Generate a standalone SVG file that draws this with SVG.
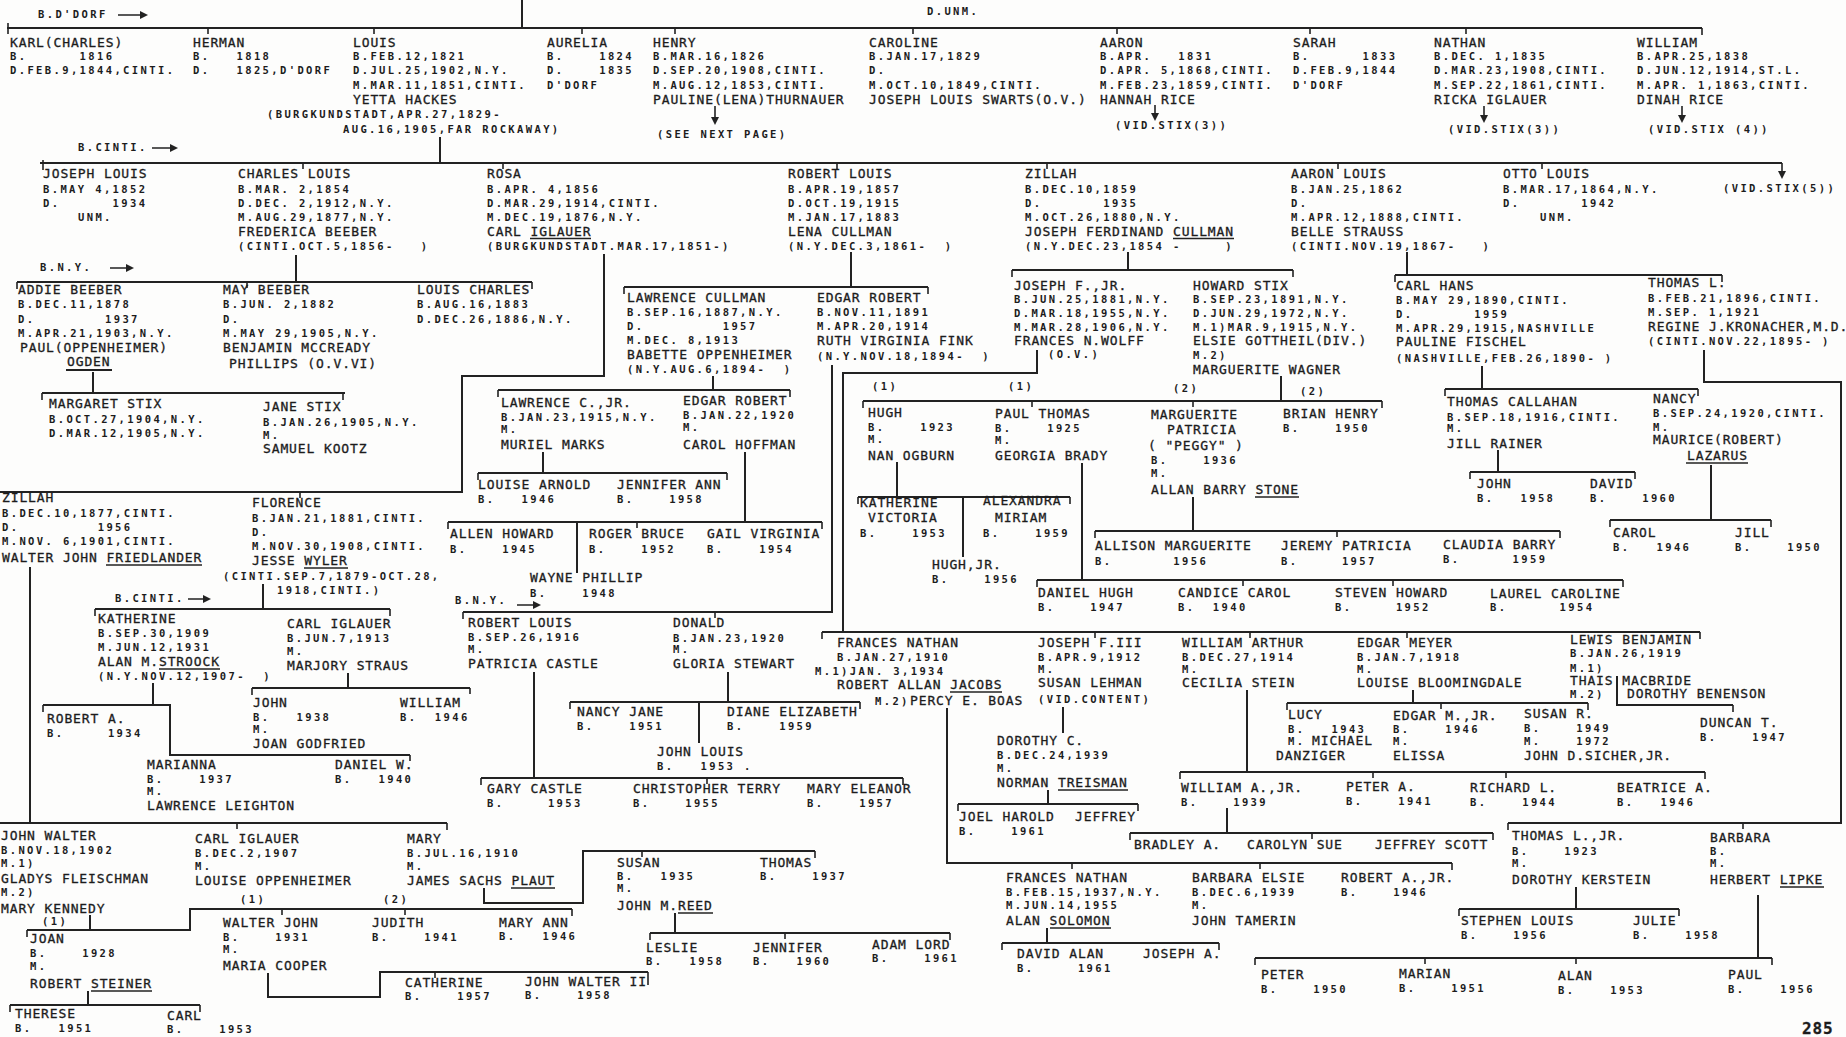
<svg xmlns="http://www.w3.org/2000/svg" width="1846" height="1037" viewBox="0 0 1846 1037" xml:space="preserve">
<defs>
<style>
text{font-family:"DejaVu Sans Mono","Liberation Mono",monospace;fill:#1c1c1c;white-space:pre}
.n{font-size:13px;letter-spacing:0.88px;stroke:#1c1c1c;stroke-width:0.3}
.d{font-size:10.5px;font-weight:bold;letter-spacing:2.38px}
.c{fill:none;stroke:#222;stroke-width:2}
.t{fill:none;stroke:#222;stroke-width:1.6}
.u{stroke:#222;stroke-width:1.3}
.ah{fill:#222}
</style>
</defs>
<rect width="1846" height="1037" fill="#fdfdfc"/>
<g id="connectors">
<path class="c" d="M522 0V28M7 28H1702M440 137V163M40 163H1782M296 255V282M17 282H532M93 372V393M42 393H345M604 254V376H462V492H0M263 584V609M95 609H390M153 683V705M43 705H170V755H410M348 673V688M252 688H470M30 567V823M0 823H447M90 915V930M27 930H190V909H572M88 991V1005M10 1005H200M484 888V903H583V851H815M268 973V997H380V972H648M675 913V933M650 933H950M851 252V287M624 287H928M713 376V390M498 390H790M543 452V473M478 473H727M745 452V522M448 522H822M577 522V573M832 365V612H463M534 672V778M481 778H903M728 672V702M570 702H860M699 702V743M1128 252V270M1012 270H1293M1281 376V401M863 401H1382M897 462V497M858 497H1070M963 497V557M1082 463V580M1037 580H1623M1193 497V531M1095 531H1560M1037 350V373H843V632M822 632H1700M947 708V863H1452M1047 928V943M1002 943H1219M1063 707V733M1048 790V804M958 804H1138M1247 690V772M1180 772H1705M1227 808V833M1130 833H1493M1413 690V703M1287 703H1588M1617 676V705H1733M1407 252V275M1395 275H1722M1482 366V389M1445 389H1698M1498 450V472M1470 472H1635M1711 465V520M1610 520H1771M1704 350V382H1841V823H1508M1576 887V909M1459 909H1679M1758 895V958M1255 958H1772"/>
<path class="t" d="M8 23V34M208 28V34M374 28V34M582 28V34M675 28V34M913 28V34M1117 28V34M1310 28V34M1466 28V34M1702 28V35M43 160V170M303 163V169M503 163V169M837 163V169M1047 163V169M1338 163V169M1542 163V169M17 282V289M247 282V288M532 282V289M42 393V400M343 393V400M300 492V498M95 609V616M390 609V616M43 705V712M410 755V761M252 688V695M470 688V694M237 823V829M447 823V830M27 930V937M282 909V915M405 909V915M572 909V916M10 1005V1012M200 1005V1012M642 851V857M815 851V858M435 972V978M648 972V985M650 933V940M785 933V939M950 933V940M624 287V294M928 287V294M498 390V397M790 390V397M478 473V480M727 473V480M448 522V529M637 522V528M822 522V529M463 612V619M715 612V618M481 778V785M707 778V784M903 778V785M570 702V709M860 702V709M1012 270V277M1293 270V277M863 401V408M1032 401V407M1193 401V407M1382 401V408M858 497V504M1070 497V504M1037 580V587M1243 580V586M1393 580V586M1623 580V587M1095 531V538M1337 531V537M1560 531V538M822 632V639M1095 632V638M1250 632V638M1407 632V638M1700 632V639M1072 863V869M1260 863V869M1452 863V870M1002 943V950M1219 943V950M958 804V811M1138 804V811M1180 772V779M1373 772V778M1506 772V778M1705 772V779M1130 833V840M1312 833V839M1493 833V840M1287 703V710M1441 703V709M1588 703V710M1733 705V712M1395 275V282M1722 275V282M1445 389V396M1698 389V396M1470 472V479M1635 472V479M1610 520V527M1771 520V527M1508 823V830M1743 823V829M1459 909V916M1679 909V916M1255 958V965M1425 958V964M1576 958V964M1772 958V965"/>
<path class="t" d="M118 15H141M152 148H171M110 268H127M188 599H204M517 605H534M715 106V117M1155 105V113M1484 106V115M1682 106V115M1782 163V171"/>
<path class="ah" d="M148 15L140 11L140 19ZM178 148L170 144L170 152ZM134 268L126 264L126 272ZM211 599L203 595L203 603ZM541 605L533 601L533 609ZM715 125L711 117L719 117ZM1155 121L1151 113L1159 113ZM1484 123L1480 115L1488 115ZM1682 123L1678 115L1686 115ZM1782 179L1778 171L1786 171Z"/>
</g>
<g id="labels">
<text class="d" x="38" y="18">B.D'DORF</text>
<text class="d" x="927" y="15">D.UNM.</text>
<text class="d" x="78" y="151">B.CINTI.</text>
<text class="d" x="40" y="271">B.N.Y.</text>
<text class="d" x="115" y="602">B.CINTI.</text>
<text class="d" x="455" y="604">B.N.Y.</text>
<text class="d" x="1723" y="192">(VID.STIX(5))</text>
<text class="n" x="1802" y="1034" style="font-size:16px;font-weight:bold">285</text>
</g>
<g id="n-karl"><text class="n" x="10" y="47">KARL(CHARLES)</text><text class="d" x="10" y="60">B.      1816</text><text class="d" x="10" y="74">D.FEB.9,1844,CINTI.</text></g>
<g id="n-herman"><text class="n" x="193" y="47">HERMAN</text><text class="d" x="193" y="60">B.   1818</text><text class="d" x="193" y="74">D.   1825,D'DORF</text></g>
<g id="n-louis"><text class="n" x="353" y="47">LOUIS</text><text class="d" x="353" y="60">B.FEB.12,1821</text><text class="d" x="353" y="74">D.JUL.25,1902,N.Y.</text><text class="d" x="353" y="89">M.MAR.11,1851,CINTI.</text><text class="n" x="353" y="104">YETTA HACKES</text><text class="d" x="267" y="118">(BURGKUNDSTADT,APR.27,1829-</text><text class="d" x="343" y="133">AUG.16,1905,FAR ROCKAWAY)</text></g>
<g id="n-aurelia"><text class="n" x="547" y="47">AURELIA</text><text class="d" x="547" y="60">B.    1824</text><text class="d" x="547" y="74">D.    1835</text><text class="d" x="547" y="89">D'DORF</text></g>
<g id="n-henry"><text class="n" x="653" y="47">HENRY</text><text class="d" x="653" y="60">B.MAR.16,1826</text><text class="d" x="653" y="74">D.SEP.20,1908,CINTI.</text><text class="d" x="653" y="89">M.AUG.12,1853,CINTI.</text><text class="n" x="653" y="104">PAULINE(LENA)THURNAUER</text><text class="d" x="657" y="138">(SEE NEXT PAGE)</text></g>
<g id="n-caroline"><text class="n" x="869" y="47">CAROLINE</text><text class="d" x="869" y="60">B.JAN.17,1829</text><text class="d" x="869" y="74">D.</text><text class="d" x="869" y="89">M.OCT.10,1849,CINTI.</text><text class="n" x="869" y="104">JOSEPH LOUIS SWARTS(O.V.)</text></g>
<g id="n-aaron"><text class="n" x="1100" y="47">AARON</text><text class="d" x="1100" y="60">B.APR.   1831</text><text class="d" x="1100" y="74">D.APR. 5,1868,CINTI.</text><text class="d" x="1100" y="89">M.FEB.23,1859,CINTI.</text><text class="n" x="1100" y="104">HANNAH RICE</text><text class="d" x="1115" y="129">(VID.STIX(3))</text></g>
<g id="n-sarah"><text class="n" x="1293" y="47">SARAH</text><text class="d" x="1293" y="60">B.      1833</text><text class="d" x="1293" y="74">D.FEB.9,1844</text><text class="d" x="1293" y="89">D'DORF</text></g>
<g id="n-nathan"><text class="n" x="1434" y="47">NATHAN</text><text class="d" x="1434" y="60">B.DEC. 1,1835</text><text class="d" x="1434" y="74">D.MAR.23,1908,CINTI.</text><text class="d" x="1434" y="89">M.SEP.22,1861,CINTI.</text><text class="n" x="1434" y="104">RICKA IGLAUER</text><text class="d" x="1448" y="133">(VID.STIX(3))</text></g>
<g id="n-william"><text class="n" x="1637" y="47">WILLIAM</text><text class="d" x="1637" y="60">B.APR.25,1838</text><text class="d" x="1637" y="74">D.JUN.12,1914,ST.L.</text><text class="d" x="1637" y="89">M.APR. 1,1863,CINTI.</text><text class="n" x="1637" y="104">DINAH RICE</text><text class="d" x="1648" y="133">(VID.STIX (4))</text></g>
<g id="n-joseph-louis"><text class="n" x="43" y="178">JOSEPH LOUIS</text><text class="d" x="43" y="193">B.MAY 4,1852</text><text class="d" x="43" y="207">D.      1934</text><text class="d" x="78" y="221">UNM.</text></g>
<g id="n-charles-louis"><text class="n" x="238" y="178">CHARLES LOUIS</text><text class="d" x="238" y="193">B.MAR. 2,1854</text><text class="d" x="238" y="207">D.DEC. 2,1912,N.Y.</text><text class="d" x="238" y="221">M.AUG.29,1877,N.Y.</text><text class="n" x="238" y="236">FREDERICA BEEBER</text><text class="d" x="238" y="250">(CINTI.OCT.5,1856-   )</text></g>
<g id="n-rosa"><text class="n" x="487" y="178">ROSA</text><text class="d" x="487" y="193">B.APR. 4,1856</text><text class="d" x="487" y="207">D.MAR.29,1914,CINTI.</text><text class="d" x="487" y="221">M.DEC.19,1876,N.Y.</text><text class="n" x="487" y="236">CARL IGLAUER</text><line class="u" x1="530" y1="238.5" x2="591" y2="238.5"/><text class="d" x="487" y="250">(BURGKUNDSTADT.MAR.17,1851-)</text></g>
<g id="n-robert-louis"><text class="n" x="788" y="178">ROBERT LOUIS</text><text class="d" x="788" y="193">B.APR.19,1857</text><text class="d" x="788" y="207">D.OCT.19,1915</text><text class="d" x="788" y="221">M.JAN.17,1883</text><text class="n" x="788" y="236">LENA CULLMAN</text><text class="d" x="788" y="250">(N.Y.DEC.3,1861-  )</text></g>
<g id="n-zillah"><text class="n" x="1025" y="178">ZILLAH</text><text class="d" x="1025" y="193">B.DEC.10,1859</text><text class="d" x="1025" y="207">D.       1935</text><text class="d" x="1025" y="221">M.OCT.26,1880,N.Y.</text><text class="n" x="1025" y="236">JOSEPH FERDINAND CULLMAN</text><line class="u" x1="1173" y1="238.5" x2="1234" y2="238.5"/><text class="d" x="1025" y="250">(N.Y.DEC.23,1854 -     )</text></g>
<g id="n-aaron-louis"><text class="n" x="1291" y="178">AARON LOUIS</text><text class="d" x="1291" y="193">B.JAN.25,1862</text><text class="d" x="1291" y="207">D.</text><text class="d" x="1291" y="221">M.APR.12,1888,CINTI.</text><text class="n" x="1291" y="236">BELLE STRAUSS</text><text class="d" x="1291" y="250">(CINTI.NOV.19,1867-   )</text></g>
<g id="n-otto-louis"><text class="n" x="1503" y="178">OTTO LOUIS</text><text class="d" x="1503" y="193">B.MAR.17,1864,N.Y.</text><text class="d" x="1503" y="207">D.       1942</text><text class="d" x="1540" y="221">UNM.</text></g>
<g id="n-addie"><text class="n" x="18" y="294">ADDIE BEEBER</text><text class="d" x="18" y="308">B.DEC.11,1878</text><text class="d" x="18" y="323">D.        1937</text><text class="d" x="18" y="337">M.APR.21,1903,N.Y.</text><text class="n" x="20" y="352">PAUL(OPPENHEIMER)</text><text class="n" x="67" y="366">OGDEN</text><line class="u" x1="66" y1="370" x2="112" y2="370" style="stroke-width:2.2"/></g>
<g id="n-may"><text class="n" x="223" y="294">MAY BEEBER</text><text class="d" x="223" y="308">B.JUN. 2,1882</text><text class="d" x="223" y="323">D.</text><text class="d" x="223" y="337">M.MAY 29,1905,N.Y.</text><text class="n" x="223" y="352">BENJAMIN MCCREADY</text><text class="n" x="229" y="368">PHILLIPS (O.V.VI)</text></g>
<g id="n-louis-charles"><text class="n" x="417" y="294">LOUIS CHARLES</text><text class="d" x="417" y="308">B.AUG.16,1883</text><text class="d" x="417" y="323">D.DEC.26,1886,N.Y.</text></g>
<g id="n-margaret"><text class="n" x="49" y="408">MARGARET STIX</text><text class="d" x="49" y="423">B.OCT.27,1904,N.Y.</text><text class="d" x="49" y="437">D.MAR.12,1905,N.Y.</text></g>
<g id="n-jane"><text class="n" x="263" y="411">JANE STIX</text><text class="d" x="263" y="426">B.JAN.26,1905,N.Y.</text><text class="d" x="263" y="439">M.</text><text class="n" x="263" y="453">SAMUEL KOOTZ</text></g>
<g id="n-zillah-1877"><text class="n" x="2" y="502">ZILLAH</text><text class="d" x="2" y="517">B.DEC.10,1877,CINTI.</text><text class="d" x="2" y="531">D.         1956</text><text class="d" x="2" y="545">M.NOV. 6,1901,CINTI.</text><text class="n" x="2" y="562">WALTER JOHN FRIEDLANDER</text><line class="u" x1="106" y1="565" x2="202" y2="565"/></g>
<g id="n-florence"><text class="n" x="252" y="507">FLORENCE</text><text class="d" x="252" y="522">B.JAN.21,1881,CINTI.</text><text class="d" x="252" y="536">D.</text><text class="d" x="252" y="550">M.NOV.30,1908,CINTI.</text><text class="n" x="252" y="565">JESSE WYLER</text><line class="u" x1="304" y1="568" x2="348" y2="568"/><text class="d" x="223" y="580">(CINTI.SEP.7,1879-OCT.28,</text><text class="d" x="277" y="594">1918,CINTI.)</text></g>
<g id="n-katherine"><text class="n" x="98" y="623">KATHERINE</text><text class="d" x="98" y="637">B.SEP.30,1909</text><text class="d" x="98" y="651">M.JUN.12,1931</text><text class="n" x="98" y="666">ALAN M.STROOCK</text><line class="u" x1="159" y1="669" x2="220" y2="669"/><text class="d" x="98" y="680">(N.Y.NOV.12,1907-  )</text></g>
<g id="n-carl-1913"><text class="n" x="287" y="628">CARL IGLAUER</text><text class="d" x="287" y="642">B.JUN.7,1913</text><text class="d" x="287" y="655">M.</text><text class="n" x="287" y="670">MARJORY STRAUS</text></g>
<g id="n-robert-a"><text class="n" x="47" y="723">ROBERT A.</text><text class="d" x="47" y="737">B.     1934</text></g>
<g id="n-marianna"><text class="n" x="147" y="769">MARIANNA</text><text class="d" x="147" y="783">B.    1937</text><text class="d" x="147" y="795">M.</text><text class="n" x="147" y="810">LAWRENCE LEIGHTON</text></g>
<g id="n-daniel-w"><text class="n" x="335" y="769">DANIEL W.</text><text class="d" x="335" y="783">B.   1940</text></g>
<g id="n-john-1938"><text class="n" x="253" y="707">JOHN</text><text class="d" x="253" y="721">B.   1938</text><text class="d" x="253" y="733">M.</text><text class="n" x="253" y="748">JOAN GODFRIED</text></g>
<g id="n-william-1946"><text class="n" x="400" y="707">WILLIAM</text><text class="d" x="400" y="721">B.  1946</text></g>
<g id="n-john-walter"><text class="n" x="1" y="840">JOHN WALTER</text><text class="d" x="1" y="854">B.NOV.18,1902</text><text class="d" x="1" y="867">M.1)</text><text class="n" x="1" y="883">GLADYS FLEISCHMAN</text><text class="d" x="1" y="896">M.2)</text><text class="n" x="1" y="913">MARY KENNEDY</text><text class="d" x="42" y="925">(1)</text></g>
<g id="n-joan"><text class="n" x="30" y="943">JOAN</text><text class="d" x="30" y="957">B.    1928</text><text class="d" x="30" y="970">M.</text><text class="n" x="30" y="988">ROBERT STEINER</text><line class="u" x1="91" y1="991" x2="152" y2="991"/></g>
<g id="n-therese"><text class="n" x="15" y="1018">THERESE</text><text class="d" x="15" y="1032">B.   1951</text></g>
<g id="n-carl-1953"><text class="n" x="167" y="1020">CARL</text><text class="d" x="167" y="1033">B.    1953</text></g>
<g id="n-carl-1907"><text class="n" x="195" y="843">CARL IGLAUER</text><text class="d" x="195" y="857">B.DEC.2,1907</text><text class="d" x="195" y="870">M.</text><text class="n" x="195" y="885">LOUISE OPPENHEIMER</text><text class="d" x="240" y="903">(1)</text><text class="d" x="383" y="903">(2)</text></g>
<g id="n-mary-1910"><text class="n" x="407" y="843">MARY</text><text class="d" x="407" y="857">B.JUL.16,1910</text><text class="d" x="407" y="870">M.</text><text class="n" x="407" y="885">JAMES SACHS PLAUT</text><line class="u" x1="511" y1="888" x2="555" y2="888"/></g>
<g id="n-walter-john"><text class="n" x="223" y="927">WALTER JOHN</text><text class="d" x="223" y="941">B.    1931</text><text class="d" x="223" y="953">M.</text><text class="n" x="223" y="970">MARIA COOPER</text></g>
<g id="n-catherine"><text class="n" x="405" y="987">CATHERINE</text><text class="d" x="405" y="1000">B.    1957</text></g>
<g id="n-john-walter-ii"><text class="n" x="525" y="986">JOHN WALTER II</text><text class="d" x="525" y="999">B.    1958</text></g>
<g id="n-judith"><text class="n" x="372" y="927">JUDITH</text><text class="d" x="372" y="941">B.    1941</text></g>
<g id="n-mary-ann"><text class="n" x="499" y="927">MARY ANN</text><text class="d" x="499" y="940">B.   1946</text></g>
<g id="n-susan"><text class="n" x="617" y="867">SUSAN</text><text class="d" x="617" y="880">B.   1935</text><text class="d" x="617" y="892">M.</text><text class="n" x="617" y="910">JOHN M.REED</text><line class="u" x1="678" y1="913" x2="713" y2="913"/></g>
<g id="n-thomas-1937"><text class="n" x="760" y="867">THOMAS</text><text class="d" x="760" y="880">B.    1937</text></g>
<g id="n-leslie"><text class="n" x="646" y="952">LESLIE</text><text class="d" x="646" y="965">B.   1958</text></g>
<g id="n-jennifer"><text class="n" x="753" y="952">JENNIFER</text><text class="d" x="753" y="965">B.   1960</text></g>
<g id="n-adam-lord"><text class="n" x="872" y="949">ADAM LORD</text><text class="d" x="872" y="962">B.    1961</text></g>
<g id="n-lawrence-cullman"><text class="n" x="627" y="302">LAWRENCE CULLMAN</text><text class="d" x="627" y="316">B.SEP.16,1887,N.Y.</text><text class="d" x="627" y="330">D.         1957</text><text class="d" x="627" y="344">M.DEC. 8,1913</text><text class="n" x="627" y="359">BABETTE OPPENHEIMER</text><text class="d" x="627" y="373">(N.Y.AUG.6,1894-  )</text></g>
<g id="n-edgar-robert"><text class="n" x="817" y="302">EDGAR ROBERT</text><text class="d" x="817" y="316">B.NOV.11,1891</text><text class="d" x="817" y="330">M.APR.20,1914</text><text class="n" x="817" y="345">RUTH VIRGINIA FINK</text><text class="d" x="817" y="360">(N.Y.NOV.18,1894-  )</text></g>
<g id="n-lawrence-jr"><text class="n" x="501" y="407">LAWRENCE C.,JR.</text><text class="d" x="501" y="421">B.JAN.23,1915,N.Y.</text><text class="d" x="501" y="433">M.</text><text class="n" x="501" y="449">MURIEL MARKS</text></g>
<g id="n-edgar-robert-1920"><text class="n" x="683" y="405">EDGAR ROBERT</text><text class="d" x="683" y="419">B.JAN.22,1920</text><text class="d" x="683" y="431">M.</text><text class="n" x="683" y="449">CAROL HOFFMAN</text></g>
<g id="n-louise-arnold"><text class="n" x="478" y="489">LOUISE ARNOLD</text><text class="d" x="478" y="503">B.   1946</text></g>
<g id="n-jennifer-ann"><text class="n" x="617" y="489">JENNIFER ANN</text><text class="d" x="617" y="503">B.    1958</text></g>
<g id="n-allen-howard"><text class="n" x="450" y="538">ALLEN HOWARD</text><text class="d" x="450" y="553">B.    1945</text></g>
<g id="n-roger-bruce"><text class="n" x="589" y="538">ROGER BRUCE</text><text class="d" x="589" y="553">B.    1952</text></g>
<g id="n-gail-virginia"><text class="n" x="707" y="538">GAIL VIRGINIA</text><text class="d" x="707" y="553">B.    1954</text></g>
<g id="n-wayne-phillip"><text class="n" x="530" y="582">WAYNE PHILLIP</text><text class="d" x="530" y="597">B.    1948</text></g>
<g id="n-robert-louis-1916"><text class="n" x="468" y="627">ROBERT LOUIS</text><text class="d" x="468" y="641">B.SEP.26,1916</text><text class="d" x="468" y="653">M.</text><text class="n" x="468" y="668">PATRICIA CASTLE</text></g>
<g id="n-donald"><text class="n" x="673" y="627">DONALD</text><text class="d" x="673" y="642">B.JAN.23,1920</text><text class="d" x="673" y="653">M.</text><text class="n" x="673" y="668">GLORIA STEWART</text></g>
<g id="n-gary"><text class="n" x="487" y="793">GARY CASTLE</text><text class="d" x="487" y="807">B.     1953</text></g>
<g id="n-christopher"><text class="n" x="633" y="793">CHRISTOPHER TERRY</text><text class="d" x="633" y="807">B.    1955</text></g>
<g id="n-mary-eleanor"><text class="n" x="807" y="793">MARY ELEANOR</text><text class="d" x="807" y="807">B.    1957</text></g>
<g id="n-nancy-jane"><text class="n" x="577" y="716">NANCY JANE</text><text class="d" x="577" y="730">B.    1951</text></g>
<g id="n-diane"><text class="n" x="727" y="716">DIANE ELIZABETH</text><text class="d" x="727" y="730">B.    1959</text></g>
<g id="n-john-louis"><text class="n" x="657" y="756">JOHN LOUIS</text><text class="d" x="657" y="770">B.   1953 .</text></g>
<g id="n-joseph-jr"><text class="n" x="1014" y="290">JOSEPH F.,JR.</text><text class="d" x="1014" y="303">B.JUN.25,1881,N.Y.</text><text class="d" x="1014" y="317">D.MAR.18,1955,N.Y.</text><text class="d" x="1014" y="331">M.MAR.28,1906,N.Y.</text><text class="n" x="1014" y="345">FRANCES N.WOLFF</text><text class="d" x="1048" y="358">(O.V.)</text></g>
<g id="n-howard"><text class="n" x="1193" y="290">HOWARD STIX</text><text class="d" x="1193" y="303">B.SEP.23,1891,N.Y.</text><text class="d" x="1193" y="317">D.JUN.29,1972,N.Y.</text><text class="d" x="1193" y="331">M.1)MAR.9,1915,N.Y.</text><text class="n" x="1193" y="345">ELSIE GOTTHEIL(DIV.)</text><text class="d" x="1193" y="359">M.2)</text><text class="n" x="1193" y="374">MARGUERITE WAGNER</text><text class="d" x="872" y="390">(1)</text><text class="d" x="1008" y="390">(1)</text><text class="d" x="1173" y="392">(2)</text><text class="d" x="1300" y="395">(2)</text></g>
<g id="n-hugh"><text class="n" x="868" y="417">HUGH</text><text class="d" x="868" y="431">B.    1923</text><text class="d" x="868" y="443">M.</text><text class="n" x="868" y="460">NAN OGBURN</text></g>
<g id="n-paul-thomas"><text class="n" x="995" y="418">PAUL THOMAS</text><text class="d" x="995" y="432">B.    1925</text><text class="d" x="995" y="444">M.</text><text class="n" x="995" y="460">GEORGIA BRADY</text></g>
<g id="n-marguerite"><text class="n" x="1151" y="419">MARGUERITE</text><text class="n" x="1167" y="434">PATRICIA</text><text class="n" x="1148" y="450">( "PEGGY" )</text><text class="d" x="1151" y="464">B.    1936</text><text class="d" x="1151" y="477">M.</text><text class="n" x="1151" y="494">ALLAN BARRY STONE</text><line class="u" x1="1255" y1="497" x2="1299" y2="497"/></g>
<g id="n-brian"><text class="n" x="1283" y="418">BRIAN HENRY</text><text class="d" x="1283" y="432">B.    1950</text></g>
<g id="n-katherine-v"><text class="n" x="860" y="507">KATHERINE</text><text class="n" x="868" y="522">VICTORIA</text><text class="d" x="860" y="537">B.    1953</text></g>
<g id="n-alexandra"><text class="n" x="983" y="505">ALEXANDRA</text><text class="n" x="995" y="522">MIRIAM</text><text class="d" x="983" y="537">B.    1959</text></g>
<g id="n-hugh-jr"><text class="n" x="932" y="569">HUGH,JR.</text><text class="d" x="932" y="583">B.    1956</text></g>
<g id="n-daniel-hugh"><text class="n" x="1038" y="597">DANIEL HUGH</text><text class="d" x="1038" y="611">B.    1947</text></g>
<g id="n-candice"><text class="n" x="1178" y="597">CANDICE CAROL</text><text class="d" x="1178" y="611">B.  1940</text></g>
<g id="n-steven"><text class="n" x="1335" y="597">STEVEN HOWARD</text><text class="d" x="1335" y="611">B.     1952</text></g>
<g id="n-laurel"><text class="n" x="1490" y="598">LAUREL CAROLINE</text><text class="d" x="1490" y="611">B.      1954</text></g>
<g id="n-allison"><text class="n" x="1095" y="550">ALLISON MARGUERITE</text><text class="d" x="1095" y="565">B.       1956</text></g>
<g id="n-jeremy"><text class="n" x="1281" y="550">JEREMY PATRICIA</text><text class="d" x="1281" y="565">B.     1957</text></g>
<g id="n-claudia"><text class="n" x="1443" y="549">CLAUDIA BARRY</text><text class="d" x="1443" y="563">B.      1959</text></g>
<g id="n-frances-1910"><text class="n" x="837" y="647">FRANCES NATHAN</text><text class="d" x="837" y="661">B.JAN.27,1910</text><text class="d" x="815" y="675">M.1)JAN. 3,1934</text><text class="n" x="837" y="689">ROBERT ALLAN JACOBS</text><line class="u" x1="950" y1="692" x2="1002" y2="692"/><text class="d" x="875" y="705">M.2)</text><text class="n" x="910" y="705">PERCY E. BOAS</text></g>
<g id="n-joseph-iii"><text class="n" x="1038" y="647">JOSEPH F.III</text><text class="d" x="1038" y="661">B.APR.9,1912</text><text class="d" x="1038" y="673">M.</text><text class="n" x="1038" y="687">SUSAN LEHMAN</text><text class="d" x="1038" y="703">(VID.CONTENT)</text></g>
<g id="n-william-arthur"><text class="n" x="1182" y="647">WILLIAM ARTHUR</text><text class="d" x="1182" y="661">B.DEC.27,1914</text><text class="d" x="1182" y="673">M.</text><text class="n" x="1182" y="687">CECILIA STEIN</text></g>
<g id="n-edgar-meyer"><text class="n" x="1357" y="647">EDGAR MEYER</text><text class="d" x="1357" y="661">B.JAN.7,1918</text><text class="d" x="1357" y="673">M.</text><text class="n" x="1357" y="687">LOUISE BLOOMINGDALE</text></g>
<g id="n-lewis"><text class="n" x="1570" y="644">LEWIS BENJAMIN</text><text class="d" x="1570" y="657">B.JAN.26,1919</text><text class="d" x="1570" y="672">M.1)</text><text class="n" x="1570" y="685">THAIS MACBRIDE</text><text class="d" x="1570" y="698">M.2)</text><text class="n" x="1627" y="698">DOROTHY BENENSON</text></g>
<g id="n-duncan"><text class="n" x="1700" y="727">DUNCAN T.</text><text class="d" x="1700" y="741">B.    1947</text></g>
<g id="n-frances-1937"><text class="n" x="1006" y="882">FRANCES NATHAN</text><text class="d" x="1006" y="896">B.FEB.15,1937,N.Y.</text><text class="d" x="1006" y="909">M.JUN.14,1955</text><text class="n" x="1006" y="925">ALAN SOLOMON</text><line class="u" x1="1050" y1="928" x2="1111" y2="928"/></g>
<g id="n-barbara-elsie"><text class="n" x="1192" y="882">BARBARA ELSIE</text><text class="d" x="1192" y="896">B.DEC.6,1939</text><text class="d" x="1192" y="909">M.</text><text class="n" x="1192" y="925">JOHN TAMERIN</text></g>
<g id="n-robert-a-jr"><text class="n" x="1341" y="882">ROBERT A.,JR.</text><text class="d" x="1341" y="896">B.    1946</text></g>
<g id="n-david-alan"><text class="n" x="1017" y="958">DAVID ALAN</text><text class="d" x="1017" y="972">B.     1961</text></g>
<g id="n-joseph-a"><text class="n" x="1143" y="958">JOSEPH A.</text></g>
<g id="n-dorothy-c"><text class="n" x="997" y="745">DOROTHY C.</text><text class="d" x="997" y="759">B.DEC.24,1939</text><text class="d" x="997" y="772">M.</text><text class="n" x="997" y="787">NORMAN TREISMAN</text><line class="u" x1="1058" y1="790" x2="1128" y2="790"/></g>
<g id="n-joel"><text class="n" x="959" y="821">JOEL HAROLD</text><text class="d" x="959" y="835">B.    1961</text></g>
<g id="n-jeffrey"><text class="n" x="1075" y="821">JEFFREY</text></g>
<g id="n-william-jr"><text class="n" x="1181" y="792">WILLIAM A.,JR.</text><text class="d" x="1181" y="806">B.    1939</text></g>
<g id="n-peter-a"><text class="n" x="1346" y="791">PETER A.</text><text class="d" x="1346" y="805">B.    1941</text></g>
<g id="n-richard"><text class="n" x="1470" y="792">RICHARD L.</text><text class="d" x="1470" y="806">B.    1944</text></g>
<g id="n-beatrice"><text class="n" x="1617" y="792">BEATRICE A.</text><text class="d" x="1617" y="806">B.   1946</text></g>
<g id="n-bradley"><text class="n" x="1134" y="849">BRADLEY A.</text></g>
<g id="n-carolyn"><text class="n" x="1247" y="849">CAROLYN SUE</text></g>
<g id="n-jeffrey-scott"><text class="n" x="1375" y="849">JEFFREY SCOTT</text></g>
<g id="n-lucy"><text class="n" x="1288" y="719">LUCY</text><text class="d" x="1288" y="733">B.   1943</text><text class="d" x="1288" y="745">M.</text><text class="n" x="1312" y="745">MICHAEL</text><text class="n" x="1276" y="760">DANZIGER</text></g>
<g id="n-edgar-jr"><text class="n" x="1393" y="720">EDGAR M.,JR.</text><text class="d" x="1393" y="733">B.    1946</text><text class="d" x="1393" y="745">M.</text><text class="n" x="1393" y="760">ELISSA</text></g>
<g id="n-susan-r"><text class="n" x="1524" y="718">SUSAN R.</text><text class="d" x="1524" y="732">B.    1949</text><text class="d" x="1524" y="745">M.    1972</text><text class="n" x="1524" y="760">JOHN D.SICHER,JR.</text></g>
<g id="n-carl-hans"><text class="n" x="1396" y="290">CARL HANS</text><text class="d" x="1396" y="304">B.MAY 29,1890,CINTI.</text><text class="d" x="1396" y="318">D.       1959</text><text class="d" x="1396" y="332">M.APR.29,1915,NASHVILLE</text><text class="n" x="1396" y="346">PAULINE FISCHEL</text><text class="d" x="1396" y="362">(NASHVILLE,FEB.26,1890- )</text></g>
<g id="n-thomas-l"><text class="n" x="1648" y="287">THOMAS L.</text><text class="d" x="1648" y="302">B.FEB.21,1896,CINTI.</text><text class="d" x="1648" y="316">M.SEP. 1,1921</text><text class="n" x="1648" y="331">REGINE J.KRONACHER,M.D.</text><text class="d" x="1648" y="345">(CINTI.NOV.22,1895- )</text></g>
<g id="n-thomas-callahan"><text class="n" x="1447" y="406">THOMAS CALLAHAN</text><text class="d" x="1447" y="421">B.SEP.18,1916,CINTI.</text><text class="d" x="1447" y="432">M.</text><text class="n" x="1447" y="448">JILL RAINER</text></g>
<g id="n-nancy"><text class="n" x="1653" y="403">NANCY</text><text class="d" x="1653" y="417">B.SEP.24,1920,CINTI.</text><text class="d" x="1653" y="431">M.</text><text class="n" x="1653" y="444">MAURICE(ROBERT)</text><text class="n" x="1687" y="460">LAZARUS</text><line class="u" x1="1686" y1="463" x2="1748" y2="463"/></g>
<g id="n-john-1958"><text class="n" x="1477" y="488">JOHN</text><text class="d" x="1477" y="502">B.   1958</text></g>
<g id="n-david"><text class="n" x="1590" y="488">DAVID</text><text class="d" x="1590" y="502">B.    1960</text></g>
<g id="n-carol"><text class="n" x="1613" y="537">CAROL</text><text class="d" x="1613" y="551">B.   1946</text></g>
<g id="n-jill"><text class="n" x="1735" y="537">JILL</text><text class="d" x="1735" y="551">B.    1950</text></g>
<g id="n-thomas-jr"><text class="n" x="1512" y="840">THOMAS L.,JR.</text><text class="d" x="1512" y="855">B.    1923</text><text class="d" x="1512" y="867">M.</text><text class="n" x="1512" y="884">DOROTHY KERSTEIN</text></g>
<g id="n-barbara"><text class="n" x="1710" y="842">BARBARA</text><text class="d" x="1710" y="855">B.</text><text class="d" x="1710" y="867">M.</text><text class="n" x="1710" y="884">HERBERT LIPKE</text><line class="u" x1="1780" y1="887" x2="1824" y2="887"/></g>
<g id="n-stephen"><text class="n" x="1461" y="925">STEPHEN LOUIS</text><text class="d" x="1461" y="939">B.    1956</text></g>
<g id="n-julie"><text class="n" x="1633" y="925">JULIE</text><text class="d" x="1633" y="939">B.    1958</text></g>
<g id="n-peter"><text class="n" x="1261" y="979">PETER</text><text class="d" x="1261" y="993">B.    1950</text></g>
<g id="n-marian"><text class="n" x="1399" y="978">MARIAN</text><text class="d" x="1399" y="992">B.    1951</text></g>
<g id="n-alan"><text class="n" x="1558" y="980">ALAN</text><text class="d" x="1558" y="994">B.    1953</text></g>
<g id="n-paul"><text class="n" x="1728" y="979">PAUL</text><text class="d" x="1728" y="993">B.    1956</text></g>
</svg>
